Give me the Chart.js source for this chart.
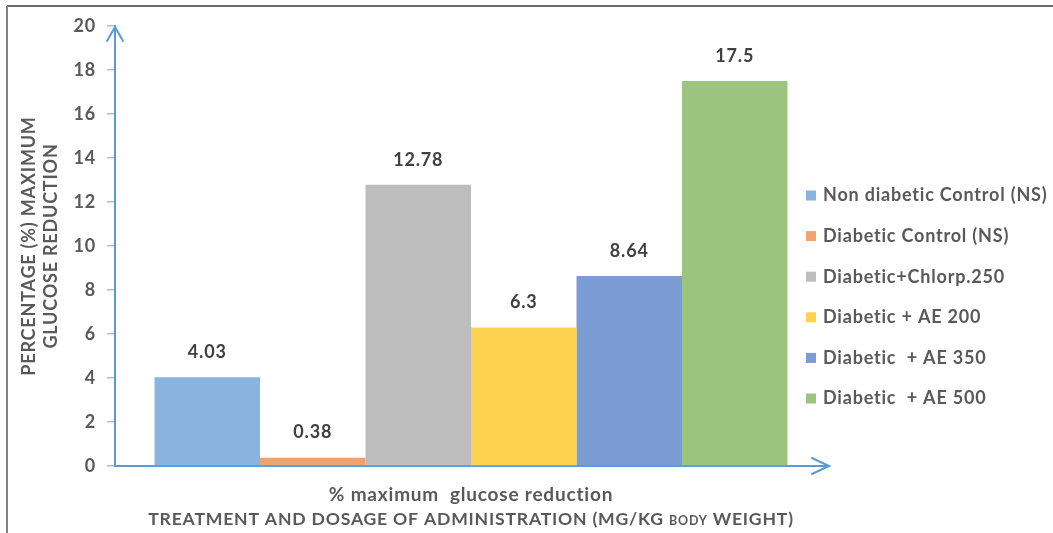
<!DOCTYPE html>
<html>
<head>
<meta charset="utf-8">
<script src="https://cdn.jsdelivr.net/npm/chart.js@4.4.1/dist/chart.umd.min.js"></script>
<style>
  html, body { margin: 0; padding: 0; background: #ffffff; }
  #wrap { width: 1053px; height: 533px; position: relative; }
</style>
</head>
<body>
<div id="wrap"><canvas id="c" width="1053" height="533"></canvas></div>
<script>
// ---- data ----
const categories = ['% maximum  glucose reduction'];
const seriesLabels = [
  'Non diabetic Control (NS)',
  'Diabetic Control (NS)',
  'Diabetic+Chlorp.250',
  'Diabetic + AE 200',
  'Diabetic  + AE 350',
  'Diabetic  + AE 500'
];
const seriesValues = [4.03, 0.38, 12.78, 6.3, 8.64, 17.5];
const seriesColors = ['#8AB4E0', '#F1A26D', '#BDBDBD', '#FDD24F', '#7B9BD4', '#9BC47E'];
const yTickMin = 0, yTickMax = 20, yTickStep = 2;
const yTitleLines = ['PERCENTAGE (%) MAXIMUM', 'GLUCOSE REDUCTION'];
const xTitleParts = [
  { text: 'TREATMENT AND DOSAGE OF ADMINISTRATION (MG/KG ', small: false },
  { text: 'BODY', small: true },
  { text: ' WEIGHT)', small: false }
];

const FONT = 'Lato';
const TEXT = '#595959';
const AXIS = '#5B9BD5';
const SPACING = '0.8px';

const datasets = seriesLabels.map((lab, i) => ({
  label: lab,
  data: [seriesValues[i]],
  backgroundColor: seriesColors[i],
  borderWidth: 0,
  categoryPercentage: 0.889,
  barPercentage: 1.0
}));

const decorPlugin = {
  id: 'decor',
  beforeInit(chart) {
    try { chart.ctx.letterSpacing = SPACING; } catch (e) {}
  },
  beforeDraw(chart) {
    const ctx = chart.ctx;
    try { ctx.letterSpacing = SPACING; } catch (e) {}
    ctx.save();
    ctx.fillStyle = '#ffffff';
    ctx.fillRect(0, 0, chart.width, chart.height);
    ctx.restore();
  },
  afterDraw(chart) {
    const ctx = chart.ctx;
    const ca = chart.chartArea;
    ctx.save();
    // frame
    ctx.strokeStyle = '#3a3a3a';
    ctx.lineWidth = 1.5;
    ctx.beginPath(); ctx.moveTo(7, 6); ctx.lineTo(chart.width, 6); ctx.stroke();
    ctx.strokeStyle = '#808080';
    ctx.lineWidth = 2;
    ctx.beginPath(); ctx.moveTo(7, 6); ctx.lineTo(7, chart.height); ctx.stroke();

    // axis arrows
    ctx.strokeStyle = AXIS;
    ctx.lineWidth = 2;
    ctx.lineCap = 'round';
    ctx.beginPath();
    ctx.moveTo(ca.left - 8, ca.top + 15); ctx.lineTo(ca.left, ca.top + 1); ctx.lineTo(ca.left + 8, ca.top + 15);
    ctx.stroke();
    ctx.beginPath();
    ctx.moveTo(ca.right, ca.bottom); ctx.lineTo(ca.right + 2, ca.bottom);
    ctx.stroke();
    ctx.beginPath();
    ctx.moveTo(ca.right - 15, ca.bottom - 8); ctx.lineTo(ca.right + 2, ca.bottom); ctx.lineTo(ca.right - 15, ca.bottom + 8);
    ctx.stroke();

    // data labels
    ctx.fillStyle = '#404040';
    ctx.font = 'bold 18px ' + FONT;
    ctx.textAlign = 'center';
    ctx.textBaseline = 'middle';
    chart.data.datasets.forEach((ds, i) => {
      const meta = chart.getDatasetMeta(i);
      meta.data.forEach((bar, j) => {
        ctx.fillText(String(ds.data[j]), bar.x, bar.y - 25);
      });
    });

    // legend
    ctx.textAlign = 'left';
    ctx.font = 'bold 18px ' + FONT;
    chart.data.datasets.forEach((ds, i) => {
      const y = 195.5 + i * 40.6;
      ctx.fillStyle = ds.backgroundColor;
      ctx.fillRect(806, y - 5, 10, 10);
      ctx.fillStyle = TEXT;
      ctx.fillText(ds.label, 823, y);
    });

    // x title with small-caps "BODY"
    const big = 'bold 17.6px ' + FONT, small = 'bold 12.5px ' + FONT;
    let total = 0;
    xTitleParts.forEach(p => { ctx.font = p.small ? small : big; total += ctx.measureText(p.text).width; });
    let x = (ca.left + ca.right) / 2 - total / 2;
    ctx.fillStyle = TEXT;
    ctx.textBaseline = 'alphabetic';
    xTitleParts.forEach(p => {
      ctx.font = p.small ? small : big;
      ctx.fillText(p.text, x, 525);
      x += ctx.measureText(p.text).width;
    });
    ctx.restore();
  }
};

new Chart(document.getElementById('c'), {
  type: 'bar',
  data: { labels: categories, datasets },
  options: {
    responsive: false,
    animation: false,
    layout: { padding: { left: 8, top: 26, right: 226, bottom: 0 } },
    plugins: { legend: { display: false }, tooltip: { enabled: false } },
    scales: {
      x: {
        grid: { display: false, drawTicks: false },
        border: { display: true, color: AXIS, width: 2 },
        ticks: { color: TEXT, font: { family: FONT, size: 19, weight: 'bold' }, padding: 17, maxRotation: 0 },
        afterFit(s) { s.height = 67; }
      },
      y: {
        min: yTickMin, max: yTickMax,
        ticks: { stepSize: yTickStep, color: TEXT, font: { family: FONT, size: 18, weight: 'bold' }, padding: 11 },
        grid: { drawOnChartArea: false, drawTicks: true, tickLength: 8, color: '#9DC3E6', lineWidth: 1.5 },
        border: { display: true, color: AXIS, width: 2 },
        title: { display: true, text: yTitleLines, color: TEXT, font: { family: FONT, size: 18, weight: 'bold', lineHeight: 1.22 }, padding: { top: 10, bottom: 0 } },
        afterFit(s) { s.width = 107; }
      }
    }
  },
  plugins: [decorPlugin]
});
</script>
</body>
</html>
